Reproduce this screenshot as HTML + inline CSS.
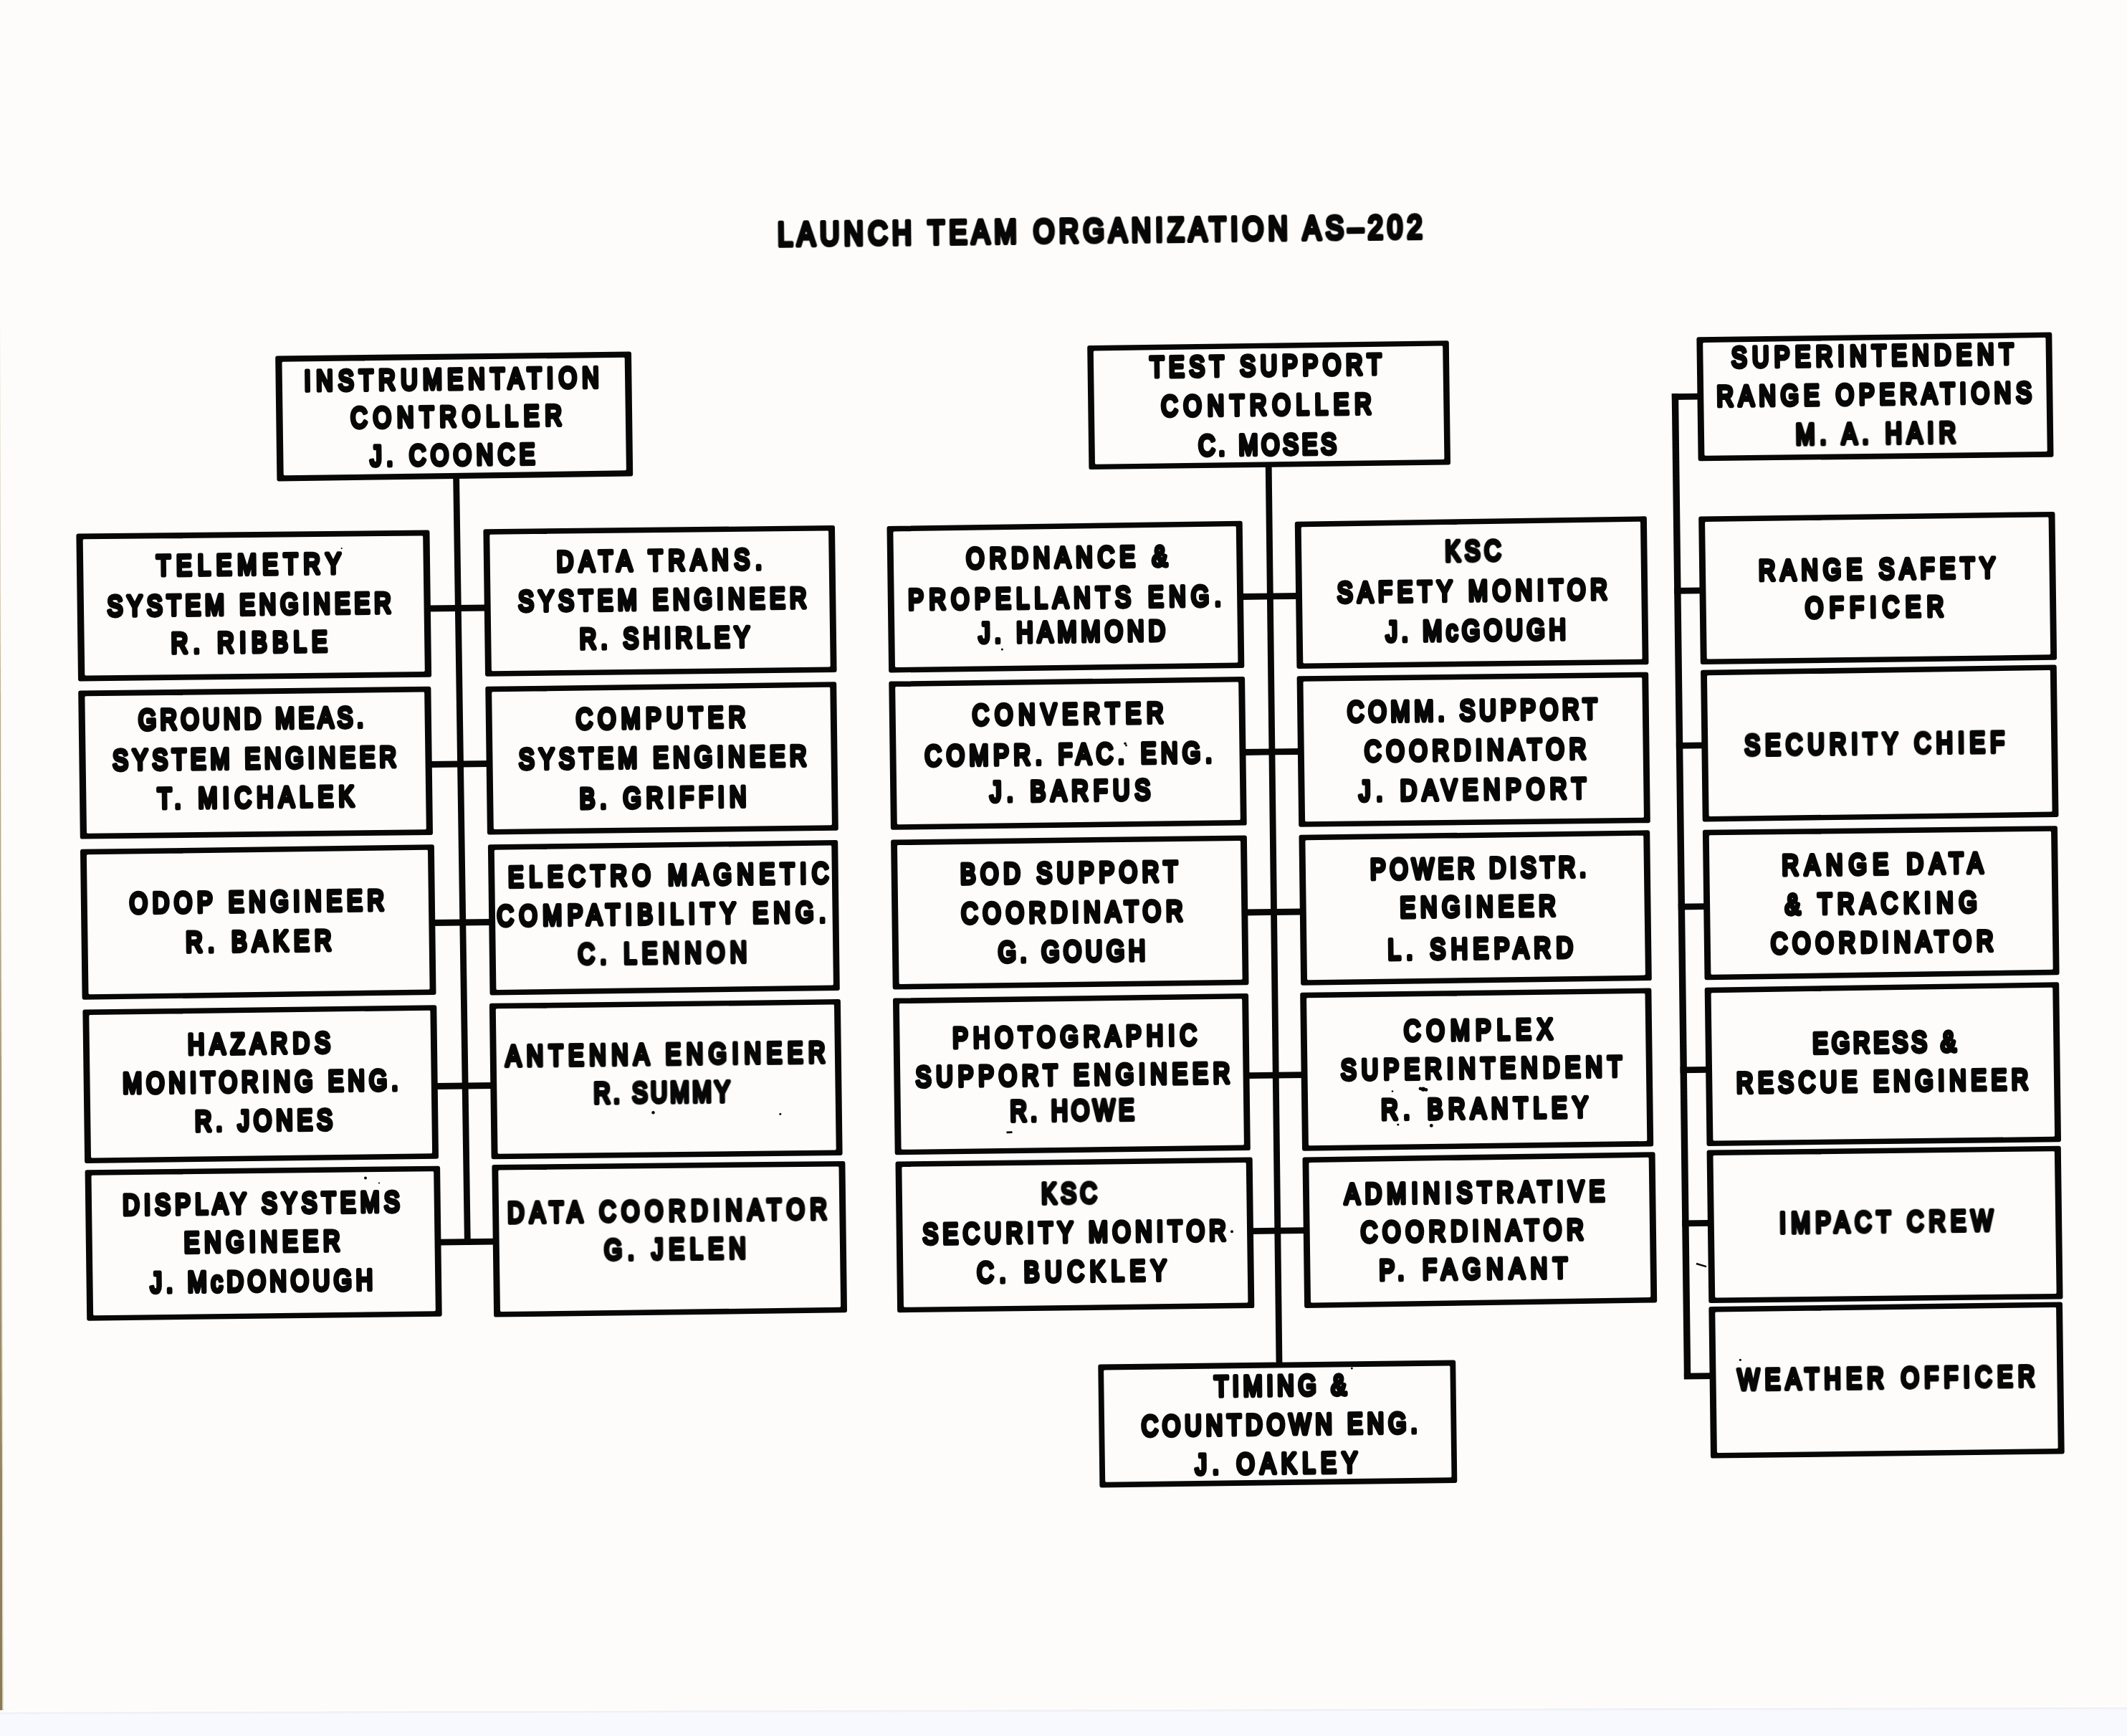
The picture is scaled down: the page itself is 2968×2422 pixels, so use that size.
<!DOCTYPE html>
<html lang="en"><head><meta charset="utf-8"><title>Launch Team Organization AS-202</title>
<style>
html,body{margin:0;padding:0;background:#fdfcfa;}
body{width:2968px;height:2422px;overflow:hidden;position:relative;}
svg{display:block;position:absolute;left:0;top:0;}
text{vector-effect:non-scaling-stroke;font-family:"Liberation Sans",sans-serif;font-weight:400;fill:#070707;stroke:#070707;stroke-linejoin:round;stroke-linecap:round;}
.bo{fill:#070707;stroke:#070707;stroke-width:6;stroke-linejoin:round;}
.bi{fill:#fdfcfa;stroke:#fdfcfa;stroke-width:3;stroke-linejoin:round;}
.ln{stroke:#070707;fill:none;stroke-linecap:butt;}
</style></head><body>
<svg width="2968" height="2422" viewBox="0 0 2968 2422">
<defs>
<linearGradient id="le" x1="0" x2="0" y1="0" y2="1"><stop offset="0" stop-color="#c9c1a8"/><stop offset="1" stop-color="#8a7a55"/></linearGradient>
</defs>
<rect x="0" y="0" width="2968" height="2422" fill="#fdfcfa"/>
<polygon points="0,2388.5 2968,2381.5 2968,2422 0,2422" fill="#f7f9fe"/>
<polygon points="0,2388.5 2968,2381.5 2968,2384.5 0,2391.5" fill="#eff1f5"/>
<polygon points="0,2387 2968,2380 2968,2381.5 0,2388.5" fill="#fffffd"/>
<polygon points="0,440 0,440 3.6,2386 0,2386" fill="url(#le)"/>
<polygon points="0,440 0,440 5.2,2386 3.6,2386" fill="#e6e1d2"/>

<line class="ln" x1="636.6" y1="664.0" x2="652.4" y2="1737.0" stroke-width="8.8"/>
<line class="ln" x1="1770.2" y1="650.0" x2="1785.0" y2="1903.0" stroke-width="8.8"/>
<line class="ln" x1="2337.4" y1="549.0" x2="2354.6" y2="1924.0" stroke-width="9.4"/>
<line class="ln" x1="597.9" y1="849.0" x2="678.8" y2="848.0" stroke-width="8.8"/>
<line class="ln" x1="599.8" y1="1066.5" x2="681.7" y2="1065.5" stroke-width="8.8"/>
<line class="ln" x1="604.3" y1="1287.5" x2="685.3" y2="1286.5" stroke-width="8.8"/>
<line class="ln" x1="607.7" y1="1515.5" x2="687.3" y2="1514.5" stroke-width="8.8"/>
<line class="ln" x1="612.4" y1="1733.1" x2="690.7" y2="1732.1" stroke-width="8.8"/>
<line class="ln" x1="1732.0" y1="832.5" x2="1811.1" y2="831.5" stroke-width="8.8"/>
<line class="ln" x1="1735.4" y1="1049.5" x2="1813.9" y2="1048.5" stroke-width="8.8"/>
<line class="ln" x1="1738.2" y1="1273.0" x2="1816.8" y2="1272.0" stroke-width="8.8"/>
<line class="ln" x1="1740.5" y1="1500.7" x2="1818.6" y2="1499.7" stroke-width="8.8"/>
<line class="ln" x1="1746.0" y1="1717.6" x2="1821.8" y2="1716.7" stroke-width="8.8"/>
<line class="ln" x1="2332.9" y1="553.6" x2="2371.4" y2="553.1" stroke-width="8.8"/>
<line class="ln" x1="2336.2" y1="824.4" x2="2374.5" y2="823.9" stroke-width="8.8"/>
<line class="ln" x1="2338.9" y1="1040.4" x2="2377.4" y2="1039.9" stroke-width="8.8"/>
<line class="ln" x1="2341.8" y1="1265.1" x2="2380.2" y2="1264.6" stroke-width="8.8"/>
<line class="ln" x1="2344.6" y1="1492.9" x2="2383.1" y2="1492.4" stroke-width="8.8"/>
<line class="ln" x1="2347.3" y1="1706.9" x2="2385.9" y2="1706.4" stroke-width="8.8"/>
<line class="ln" x1="2349.9" y1="1920.1" x2="2388.6" y2="1919.6" stroke-width="8.8"/>
<polygon class="bo" points="387.2,499.5 878.0,493.6 880.2,661.5 389.4,668.5"/>
<polygon class="bi" points="395.0,506.2 870.2,500.3 872.4,654.8 397.2,661.8"/>
<polygon class="bo" points="109.4,747.4 596.5,742.6 599.1,941.8 112.0,947.5"/>
<polygon class="bi" points="117.2,753.8 588.7,749.0 591.3,935.4 119.8,941.1"/>
<polygon class="bo" points="112.2,966.5 598.4,960.8 601.0,1162.0 114.8,1167.6"/>
<polygon class="bi" points="119.9,972.8 590.7,967.1 593.3,1155.7 122.5,1161.3"/>
<polygon class="bo" points="115.0,1187.8 602.9,1181.3 605.5,1385.0 117.6,1391.8"/>
<polygon class="bi" points="122.4,1193.8 595.5,1187.3 598.1,1379.0 125.0,1385.8"/>
<polygon class="bo" points="118.4,1411.4 606.3,1405.2 609.0,1613.7 121.1,1619.9"/>
<polygon class="bi" points="125.8,1417.4 598.9,1411.2 601.6,1607.7 128.5,1613.9"/>
<polygon class="bo" points="121.6,1635.2 611.1,1629.7 613.7,1833.7 124.2,1839.7"/>
<polygon class="bi" points="129.0,1641.2 603.7,1635.7 606.3,1827.7 131.6,1833.7"/>
<polygon class="bo" points="677.4,741.2 1162.0,736.1 1164.6,935.0 680.0,940.7"/>
<polygon class="bi" points="684.8,747.2 1154.6,742.1 1157.2,929.0 687.4,934.7"/>
<polygon class="bo" points="680.3,960.8 1164.2,954.3 1166.8,1155.8 682.9,1161.4"/>
<polygon class="bi" points="687.7,966.8 1156.8,960.3 1159.4,1149.8 690.3,1155.4"/>
<polygon class="bo" points="683.9,1181.2 1166.2,1175.0 1168.8,1379.0 686.5,1385.5"/>
<polygon class="bi" points="691.3,1187.2 1158.8,1181.0 1161.4,1373.0 693.9,1379.5"/>
<polygon class="bo" points="685.9,1402.8 1169.9,1397.1 1172.6,1609.0 688.6,1614.2"/>
<polygon class="bi" points="693.3,1408.8 1162.5,1403.1 1165.2,1603.0 696.0,1608.2"/>
<polygon class="bo" points="689.4,1627.9 1176.4,1623.0 1179.0,1828.3 692.1,1834.6"/>
<polygon class="bi" points="696.8,1633.9 1169.0,1629.0 1171.6,1822.3 699.5,1828.6"/>
<polygon class="bo" points="1520.2,485.0 2018.8,478.2 2021.0,645.5 1522.4,652.1"/>
<polygon class="bi" points="1527.3,490.9 2011.7,484.1 2013.9,639.6 1529.5,646.2"/>
<polygon class="bo" points="1240.5,736.9 1730.7,729.8 1733.3,929.0 1243.1,935.5"/>
<polygon class="bi" points="1247.9,742.9 1723.3,735.8 1725.9,923.0 1250.5,929.5"/>
<polygon class="bo" points="1243.3,953.6 1734.1,947.1 1736.7,1148.6 1245.9,1154.8"/>
<polygon class="bi" points="1250.7,959.6 1726.7,953.1 1729.3,1142.6 1253.3,1148.8"/>
<polygon class="bo" points="1246.1,1174.6 1736.9,1168.4 1739.5,1371.3 1248.7,1377.5"/>
<polygon class="bi" points="1253.5,1180.6 1729.5,1174.4 1732.1,1365.3 1256.1,1371.5"/>
<polygon class="bo" points="1249.0,1395.6 1739.1,1389.1 1741.8,1602.1 1251.7,1608.3"/>
<polygon class="bi" points="1256.4,1401.6 1731.7,1395.1 1734.4,1596.1 1259.1,1602.3"/>
<polygon class="bo" points="1252.5,1623.5 1744.7,1617.5 1747.3,1822.1 1255.1,1828.3"/>
<polygon class="bi" points="1259.9,1629.5 1737.3,1623.5 1739.9,1816.1 1262.5,1822.3"/>
<polygon class="bo" points="1809.8,730.7 2294.9,723.3 2297.5,924.2 1812.4,929.9"/>
<polygon class="bi" points="1817.2,736.7 2287.5,729.3 2290.1,918.2 1819.8,923.9"/>
<polygon class="bo" points="1812.6,946.3 2297.2,940.7 2299.8,1145.2 1815.2,1150.8"/>
<polygon class="bi" points="1820.0,952.3 2289.8,946.7 2292.4,1139.2 1822.6,1144.8"/>
<polygon class="bo" points="1815.5,1167.8 2299.2,1161.3 2301.8,1365.1 1818.1,1371.8"/>
<polygon class="bi" points="1822.9,1173.8 2291.8,1167.3 2294.4,1359.1 1825.5,1365.8"/>
<polygon class="bo" points="1817.2,1387.8 2301.4,1381.5 2304.2,1596.5 1820.0,1602.7"/>
<polygon class="bi" points="1824.6,1393.8 2294.0,1387.5 2296.8,1590.5 1827.4,1596.7"/>
<polygon class="bo" points="1820.5,1617.5 2306.6,1610.3 2309.2,1814.5 1823.1,1822.0"/>
<polygon class="bi" points="1827.9,1623.5 2299.2,1616.3 2301.8,1808.5 1830.5,1816.0"/>
<polygon class="bo" points="1535.3,1906.6 2028.2,1900.6 2030.3,2066.0 1537.4,2072.5"/>
<polygon class="bi" points="1541.6,1912.9 2021.9,1906.9 2024.0,2059.7 1543.7,2066.2"/>
<polygon class="bo" points="2370.4,473.3 2860.3,466.5 2862.5,634.7 2372.6,640.3"/>
<polygon class="bi" points="2377.7,479.4 2853.0,472.6 2855.2,628.6 2379.9,634.2"/>
<polygon class="bo" points="2373.2,723.4 2864.5,716.9 2867.1,917.8 2375.8,924.0"/>
<polygon class="bi" points="2380.6,729.4 2857.1,722.9 2859.7,911.8 2383.2,918.0"/>
<polygon class="bo" points="2376.1,937.8 2866.8,930.5 2869.5,1137.0 2378.7,1143.5"/>
<polygon class="bi" points="2383.5,943.8 2859.4,936.5 2862.1,1131.0 2386.1,1137.5"/>
<polygon class="bo" points="2378.9,1160.8 2868.0,1155.2 2870.6,1357.2 2381.5,1364.2"/>
<polygon class="bi" points="2386.3,1166.8 2860.6,1161.2 2863.2,1351.2 2388.9,1358.2"/>
<polygon class="bo" points="2381.7,1380.7 2870.2,1373.3 2873.0,1590.3 2384.5,1595.9"/>
<polygon class="bi" points="2389.1,1386.7 2862.8,1379.3 2865.6,1584.3 2391.9,1589.9"/>
<polygon class="bo" points="2384.6,1607.6 2872.8,1601.7 2875.5,1809.4 2387.3,1814.9"/>
<polygon class="bi" points="2392.0,1613.6 2865.4,1607.7 2868.1,1803.4 2394.7,1808.9"/>
<polygon class="bo" points="2387.4,1826.1 2875.0,1819.5 2877.7,2025.5 2390.0,2031.6"/>
<polygon class="bi" points="2394.8,1832.1 2867.6,1825.5 2870.2,2019.5 2397.4,2025.6"/>
<g opacity="0.999">
<text transform="translate(1534.9,337.5) rotate(-0.68) scale(0.8,1)" font-size="47" stroke-width="5.6" text-anchor="middle" textLength="1124.2" lengthAdjust="spacing">LAUNCH TEAM ORGANIZATION AS–202</text>
<text transform="translate(630.2,542.6) rotate(-0.68) scale(0.8,1)" font-size="40.0" stroke-width="5.3" text-anchor="middle" textLength="513.6" lengthAdjust="spacing">INSTRUMENTATION</text>
<text transform="translate(636.7,594.8) rotate(-0.68) scale(0.8,1)" font-size="40.0" stroke-width="5.3" text-anchor="middle" textLength="368.1" lengthAdjust="spacing">CONTROLLER</text>
<text transform="translate(631.5,648.4) rotate(-0.68) scale(0.8,1)" font-size="40.0" stroke-width="5.3" text-anchor="middle" textLength="287.1" lengthAdjust="spacing">J. COONCE</text>
<text transform="translate(347.2,801.2) rotate(-0.68) scale(0.8,1)" font-size="40.0" stroke-width="5.3" text-anchor="middle" textLength="321.7" lengthAdjust="spacing">TELEMETRY</text>
<text transform="translate(347.8,857.0) rotate(-0.68) scale(0.8,1)" font-size="40.0" stroke-width="5.3" text-anchor="middle" textLength="494.6" lengthAdjust="spacing">SYSTEM ENGINEER</text>
<text transform="translate(347.9,909.8) rotate(-0.68) scale(0.8,1)" font-size="40.0" stroke-width="5.3" text-anchor="middle" textLength="272.0" lengthAdjust="spacing">R. RIBBLE</text>
<text transform="translate(350.1,1016.1) rotate(-0.68) scale(0.8,1)" font-size="40.0" stroke-width="5.3" text-anchor="middle" textLength="392.4" lengthAdjust="spacing">GROUND MEAS.</text>
<text transform="translate(355.1,1071.8) rotate(-0.68) scale(0.8,1)" font-size="40.0" stroke-width="5.3" text-anchor="middle" textLength="494.2" lengthAdjust="spacing">SYSTEM ENGINEER</text>
<text transform="translate(357.0,1126.1) rotate(-0.68) scale(0.8,1)" font-size="40.0" stroke-width="5.3" text-anchor="middle" textLength="342.6" lengthAdjust="spacing">T. MICHALEK</text>
<text transform="translate(920.1,795.6) rotate(-0.68) scale(0.8,1)" font-size="40.0" stroke-width="5.3" text-anchor="middle" textLength="357.7" lengthAdjust="spacing">DATA TRANS.</text>
<text transform="translate(924.4,850.1) rotate(-0.68) scale(0.8,1)" font-size="40.0" stroke-width="5.3" text-anchor="middle" textLength="502.4" lengthAdjust="spacing">SYSTEM ENGINEER</text>
<text transform="translate(927.6,903.6) rotate(-0.68) scale(0.8,1)" font-size="40.0" stroke-width="5.3" text-anchor="middle" textLength="296.6" lengthAdjust="spacing">R. SHIRLEY</text>
<text transform="translate(922.0,1015.4) rotate(-0.68) scale(0.8,1)" font-size="40.0" stroke-width="5.3" text-anchor="middle" textLength="295.2" lengthAdjust="spacing">COMPUTER</text>
<text transform="translate(924.8,1070.4) rotate(-0.68) scale(0.8,1)" font-size="40.0" stroke-width="5.3" text-anchor="middle" textLength="501.4" lengthAdjust="spacing">SYSTEM ENGINEER</text>
<text transform="translate(925.1,1126.4) rotate(-0.68) scale(0.8,1)" font-size="40.0" stroke-width="5.3" text-anchor="middle" textLength="290.4" lengthAdjust="spacing">B. GRIFFIN</text>
<text transform="translate(358.4,1271.6) rotate(-0.68) scale(0.8,1)" font-size="40.0" stroke-width="5.3" text-anchor="middle" textLength="443.4" lengthAdjust="spacing">ODOP ENGINEER</text>
<text transform="translate(360.9,1326.8) rotate(-0.68) scale(0.8,1)" font-size="40.0" stroke-width="5.3" text-anchor="middle" textLength="253.8" lengthAdjust="spacing">R. BAKER</text>
<text transform="translate(361.6,1469.5) rotate(-0.68) scale(0.8,1)" font-size="40.0" stroke-width="5.3" text-anchor="middle" textLength="248.2" lengthAdjust="spacing">HAZARDS</text>
<text transform="translate(363.5,1522.8) rotate(-0.68) scale(0.8,1)" font-size="40.0" stroke-width="5.3" text-anchor="middle" textLength="480.1" lengthAdjust="spacing">MONITORING ENG.</text>
<text transform="translate(368.0,1576.8) rotate(-0.68) scale(0.8,1)" font-size="40.0" stroke-width="5.3" text-anchor="middle" textLength="239.6" lengthAdjust="spacing">R. JONES</text>
<text transform="translate(364.5,1692.5) rotate(-0.68) scale(0.8,1)" font-size="40.0" stroke-width="5.3" text-anchor="middle" textLength="482.6" lengthAdjust="spacing">DISPLAY SYSTEMS</text>
<text transform="translate(365.7,1745.9) rotate(-0.68) scale(0.8,1)" font-size="40.0" stroke-width="5.3" text-anchor="middle" textLength="271.6" lengthAdjust="spacing">ENGINEER</text>
<text transform="translate(365.1,1801.1) rotate(-0.68) scale(0.8,1)" font-size="40.0" stroke-width="5.3" text-anchor="middle" textLength="387.5" lengthAdjust="spacing">J. McDONOUGH</text>
<text transform="translate(932.8,1234.5) rotate(-0.68) scale(0.8,1)" font-size="40.0" stroke-width="5.3" text-anchor="middle" textLength="558.9" lengthAdjust="spacing">ELECTRO MAGNETIC</text>
<text transform="translate(923.0,1288.8) rotate(-0.68) scale(0.8,1)" font-size="40.0" stroke-width="5.3" text-anchor="middle" textLength="573.0" lengthAdjust="spacing">COMPATIBILITY ENG.</text>
<text transform="translate(924.4,1343.5) rotate(-0.68) scale(0.8,1)" font-size="40.0" stroke-width="5.3" text-anchor="middle" textLength="294.2" lengthAdjust="spacing">C. LENNON</text>
<text transform="translate(928.5,1484.6) rotate(-0.68) scale(0.8,1)" font-size="40.0" stroke-width="5.3" text-anchor="middle" textLength="557.0" lengthAdjust="spacing">ANTENNA ENGINEER</text>
<text transform="translate(923.6,1537.9) rotate(-0.68) scale(0.8,1)" font-size="40.0" stroke-width="5.3" text-anchor="middle" textLength="237.5" lengthAdjust="spacing">R. SUMMY</text>
<text transform="translate(931.1,1703.2) rotate(-0.68) scale(0.8,1)" font-size="40.0" stroke-width="5.3" text-anchor="middle" textLength="556.9" lengthAdjust="spacing">DATA COORDINATOR</text>
<text transform="translate(942.0,1756.4) rotate(-0.68) scale(0.8,1)" font-size="40.0" stroke-width="5.3" text-anchor="middle" textLength="246.7" lengthAdjust="spacing">G. JELEN</text>
<text transform="translate(1766.1,523.8) rotate(-0.68) scale(0.8,1)" font-size="40.0" stroke-width="5.3" text-anchor="middle" textLength="403.6" lengthAdjust="spacing">TEST SUPPORT</text>
<text transform="translate(1767.1,578.6) rotate(-0.68) scale(0.8,1)" font-size="40.0" stroke-width="5.3" text-anchor="middle" textLength="366.6" lengthAdjust="spacing">CONTROLLER</text>
<text transform="translate(1768.6,634.1) rotate(-0.68) scale(0.8,1)" font-size="40.0" stroke-width="5.3" text-anchor="middle" textLength="240.6" lengthAdjust="spacing">C. MOSES</text>
<text transform="translate(1488.8,791.2) rotate(-0.68) scale(0.8,1)" font-size="40.0" stroke-width="5.3" text-anchor="middle" textLength="350.7" lengthAdjust="spacing">ORDNANCE &amp;</text>
<text transform="translate(1485.7,847.6) rotate(-0.68) scale(0.8,1)" font-size="40.0" stroke-width="5.3" text-anchor="middle" textLength="545.4" lengthAdjust="spacing">PROPELLANTS ENG.</text>
<text transform="translate(1495.7,895.0) rotate(-0.68) scale(0.8,1)" font-size="40.0" stroke-width="5.3" text-anchor="middle" textLength="325.2" lengthAdjust="spacing">J. HAMMOND</text>
<text transform="translate(1490.2,1009.6) rotate(-0.68) scale(0.8,1)" font-size="40.0" stroke-width="5.3" text-anchor="middle" textLength="333.0" lengthAdjust="spacing">CONVERTER</text>
<text transform="translate(1491.0,1065.8) rotate(-0.68) scale(0.8,1)" font-size="40.0" stroke-width="5.3" text-anchor="middle" textLength="500.5" lengthAdjust="spacing">COMPR. FAC. ENG.</text>
<text transform="translate(1493.3,1116.8) rotate(-0.68) scale(0.8,1)" font-size="40.0" stroke-width="5.3" text-anchor="middle" textLength="279.5" lengthAdjust="spacing">J. BARFUS</text>
<text transform="translate(1491.7,1231.2) rotate(-0.68) scale(0.8,1)" font-size="40.0" stroke-width="5.3" text-anchor="middle" textLength="378.9" lengthAdjust="spacing">BOD SUPPORT</text>
<text transform="translate(1495.9,1286.2) rotate(-0.68) scale(0.8,1)" font-size="40.0" stroke-width="5.3" text-anchor="middle" textLength="385.9" lengthAdjust="spacing">COORDINATOR</text>
<text transform="translate(1495.5,1340.9) rotate(-0.68) scale(0.8,1)" font-size="40.0" stroke-width="5.3" text-anchor="middle" textLength="256.5" lengthAdjust="spacing">G. GOUGH</text>
<text transform="translate(1499.8,1459.8) rotate(-0.68) scale(0.8,1)" font-size="40.0" stroke-width="5.3" text-anchor="middle" textLength="425.5" lengthAdjust="spacing">PHOTOGRAPHIC</text>
<text transform="translate(1497.0,1513.3) rotate(-0.68) scale(0.8,1)" font-size="40.0" stroke-width="5.3" text-anchor="middle" textLength="547.5" lengthAdjust="spacing">SUPPORT ENGINEER</text>
<text transform="translate(1496.2,1563.1) rotate(-0.68) scale(0.8,1)" font-size="40.0" stroke-width="5.3" text-anchor="middle" textLength="215.9" lengthAdjust="spacing">R. HOWE</text>
<text transform="translate(1492.0,1678.6) rotate(-0.68) scale(0.8,1)" font-size="40.0" stroke-width="5.3" text-anchor="middle" textLength="96.8" lengthAdjust="spacing">KSC</text>
<text transform="translate(1499.2,1732.8) rotate(-0.68) scale(0.8,1)" font-size="40.0" stroke-width="5.3" text-anchor="middle" textLength="528.8" lengthAdjust="spacing">SECURITY MONITOR</text>
<text transform="translate(1495.5,1787.5) rotate(-0.68) scale(0.8,1)" font-size="40.0" stroke-width="5.3" text-anchor="middle" textLength="330.2" lengthAdjust="spacing">C. BUCKLEY</text>
<text transform="translate(1786.7,1946.8) rotate(-0.68) scale(0.8,1)" font-size="40.0" stroke-width="5.3" text-anchor="middle" textLength="230.6" lengthAdjust="spacing">TIMING &amp;</text>
<text transform="translate(1785.3,2001.0) rotate(-0.68) scale(0.8,1)" font-size="40.0" stroke-width="5.3" text-anchor="middle" textLength="481.0" lengthAdjust="spacing">COUNTDOWN ENG.</text>
<text transform="translate(1781.0,2055.3) rotate(-0.68) scale(0.8,1)" font-size="40.0" stroke-width="5.3" text-anchor="middle" textLength="282.5" lengthAdjust="spacing">J. OAKLEY</text>
<text transform="translate(2632.2,1936.3) rotate(-0.68) scale(0.8,1)" font-size="40.0" stroke-width="5.3" text-anchor="middle" textLength="517.9" lengthAdjust="spacing">WEATHER OFFICER</text>
<text transform="translate(2055.6,782.4) rotate(-0.68) scale(0.8,1)" font-size="40.0" stroke-width="5.3" text-anchor="middle" textLength="97.4" lengthAdjust="spacing">KSC</text>
<text transform="translate(2054.5,838.0) rotate(-0.68) scale(0.8,1)" font-size="40.0" stroke-width="5.3" text-anchor="middle" textLength="470.6" lengthAdjust="spacing">SAFETY MONITOR</text>
<text transform="translate(2059.4,893.2) rotate(-0.68) scale(0.8,1)" font-size="40.0" stroke-width="5.3" text-anchor="middle" textLength="313.6" lengthAdjust="spacing">J. McGOUGH</text>
<text transform="translate(2054.5,1004.8) rotate(-0.68) scale(0.8,1)" font-size="40.0" stroke-width="5.3" text-anchor="middle" textLength="435.4" lengthAdjust="spacing">COMM. SUPPORT</text>
<text transform="translate(2058.7,1060.0) rotate(-0.68) scale(0.8,1)" font-size="40.0" stroke-width="5.3" text-anchor="middle" textLength="385.9" lengthAdjust="spacing">COORDINATOR</text>
<text transform="translate(2054.8,1115.3) rotate(-0.68) scale(0.8,1)" font-size="40.0" stroke-width="5.3" text-anchor="middle" textLength="395.7" lengthAdjust="spacing">J. DAVENPORT</text>
<text transform="translate(2612.8,509.8) rotate(-0.68) scale(0.8,1)" font-size="40.0" stroke-width="5.3" text-anchor="middle" textLength="491.7" lengthAdjust="spacing">SUPERINTENDENT</text>
<text transform="translate(2615.3,563.8) rotate(-0.68) scale(0.8,1)" font-size="40.0" stroke-width="5.3" text-anchor="middle" textLength="548.9" lengthAdjust="spacing">RANGE OPERATIONS</text>
<text transform="translate(2617.4,618.6) rotate(-0.68) scale(0.8,1)" font-size="40.0" stroke-width="5.3" text-anchor="middle" textLength="279.0" lengthAdjust="spacing">M. A. HAIR</text>
<text transform="translate(2619.2,807.6) rotate(-0.68) scale(0.8,1)" font-size="40.0" stroke-width="5.3" text-anchor="middle" textLength="412.5" lengthAdjust="spacing">RANGE SAFETY</text>
<text transform="translate(2615.7,860.6) rotate(-0.68) scale(0.8,1)" font-size="40.0" stroke-width="5.3" text-anchor="middle" textLength="241.2" lengthAdjust="spacing">OFFICER</text>
<text transform="translate(2615.7,1051.3) rotate(-0.68) scale(0.8,1)" font-size="40.0" stroke-width="5.3" text-anchor="middle" textLength="453.0" lengthAdjust="spacing">SECURITY CHIEF</text>
<text transform="translate(2062.7,1224.8) rotate(-0.68) scale(0.8,1)" font-size="40.0" stroke-width="5.3" text-anchor="middle" textLength="376.1" lengthAdjust="spacing">POWER DISTR.</text>
<text transform="translate(2062.2,1278.4) rotate(-0.68) scale(0.8,1)" font-size="40.0" stroke-width="5.3" text-anchor="middle" textLength="271.2" lengthAdjust="spacing">ENGINEER</text>
<text transform="translate(2065.8,1337.0) rotate(-0.68) scale(0.8,1)" font-size="40.0" stroke-width="5.3" text-anchor="middle" textLength="322.5" lengthAdjust="spacing">L. SHEPARD</text>
<text transform="translate(2062.9,1450.6) rotate(-0.68) scale(0.8,1)" font-size="40.0" stroke-width="5.3" text-anchor="middle" textLength="259.0" lengthAdjust="spacing">COMPLEX</text>
<text transform="translate(2067.1,1503.9) rotate(-0.68) scale(0.8,1)" font-size="40.0" stroke-width="5.3" text-anchor="middle" textLength="490.0" lengthAdjust="spacing">SUPERINTENDENT</text>
<text transform="translate(2071.7,1560.0) rotate(-0.68) scale(0.8,1)" font-size="40.0" stroke-width="5.3" text-anchor="middle" textLength="360.6" lengthAdjust="spacing">R. BRANTLEY</text>
<text transform="translate(2057.7,1677.3) rotate(-0.68) scale(0.8,1)" font-size="40.0" stroke-width="5.3" text-anchor="middle" textLength="453.8" lengthAdjust="spacing">ADMINISTRATIVE</text>
<text transform="translate(2054.3,1730.8) rotate(-0.68) scale(0.8,1)" font-size="40.0" stroke-width="5.3" text-anchor="middle" textLength="388.1" lengthAdjust="spacing">COORDINATOR</text>
<text transform="translate(2055.9,1784.2) rotate(-0.68) scale(0.8,1)" font-size="40.0" stroke-width="5.3" text-anchor="middle" textLength="327.9" lengthAdjust="spacing">P. FAGNANT</text>
<text transform="translate(2626.9,1219.2) rotate(-0.68) scale(0.8,1)" font-size="40.0" stroke-width="5.3" text-anchor="middle" textLength="350.7" lengthAdjust="spacing">RANGE DATA</text>
<text transform="translate(2624.8,1273.8) rotate(-0.68) scale(0.8,1)" font-size="40.0" stroke-width="5.3" text-anchor="middle" textLength="334.8" lengthAdjust="spacing">&amp; TRACKING</text>
<text transform="translate(2626.2,1328.1) rotate(-0.68) scale(0.8,1)" font-size="40.0" stroke-width="5.3" text-anchor="middle" textLength="387.7" lengthAdjust="spacing">COORDINATOR</text>
<text transform="translate(2629.6,1468.0) rotate(-0.68) scale(0.8,1)" font-size="40.0" stroke-width="5.3" text-anchor="middle" textLength="250.1" lengthAdjust="spacing">EGRESS &amp;</text>
<text transform="translate(2626.7,1522.0) rotate(-0.68) scale(0.8,1)" font-size="40.0" stroke-width="5.3" text-anchor="middle" textLength="508.8" lengthAdjust="spacing">RESCUE ENGINEER</text>
<text transform="translate(2632.1,1718.3) rotate(-0.68) scale(0.8,1)" font-size="40.0" stroke-width="5.3" text-anchor="middle" textLength="372.0" lengthAdjust="spacing">IMPACT CREW</text>
</g>
<circle cx="911.5" cy="1552.2" r="2.2" fill="#070707"/>
<circle cx="1088.8" cy="1554.2" r="1.5" fill="#070707"/>
<circle cx="1986" cy="1519.6" r="3.2" fill="#070707"/>
<circle cx="1982" cy="1518.8" r="2.4" fill="#070707"/>
<circle cx="1990" cy="1520.4" r="2.4" fill="#070707"/>
<circle cx="1943" cy="1522.5" r="1.3" fill="#070707"/>
<circle cx="1997.3" cy="1570.4" r="2.4" fill="#070707"/>
<circle cx="1950.8" cy="1569" r="1.6" fill="#070707"/>
<circle cx="1719" cy="1718.2" r="2.0" fill="#070707"/>
<circle cx="510" cy="1643.6" r="2.0" fill="#070707"/>
<circle cx="529" cy="1650.5" r="1.1" fill="#070707"/>
<circle cx="476.7" cy="765" r="1.1" fill="#070707"/>
<circle cx="1886.3" cy="1909.1" r="1.5" fill="#070707"/>
<circle cx="2428.4" cy="1897.3" r="1.6" fill="#070707"/>
<circle cx="1398.4" cy="906" r="1.5" fill="#070707"/>
<circle cx="1570" cy="1037.3" r="1.8" fill="#070707"/>
<circle cx="1571.5" cy="1040" r="1.4" fill="#070707"/>
<line class="ln" x1="2367" y1="1763" x2="2381" y2="1767.2" stroke-width="2.4" stroke-linecap="round"/>
<line class="ln" x1="1404.5" y1="1579.9" x2="1412.5" y2="1579.6" stroke-width="2.6" stroke-linecap="round"/>
</svg></body></html>
